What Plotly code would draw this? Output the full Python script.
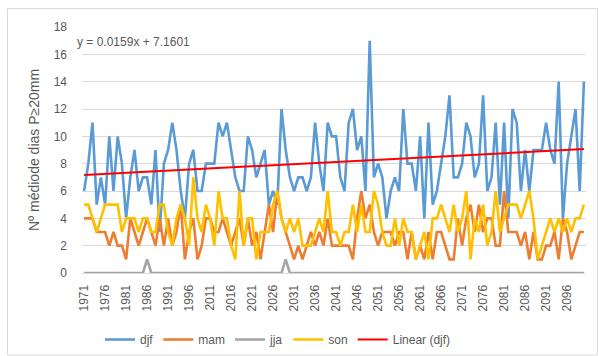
import plotly.graph_objects as go

# Categories: 1971-2000 reference period, then 2011-2100 projections
years = list(range(1971, 2001)) + list(range(2011, 2101))

# Mean number of days with P >= 20 mm, by season
djf = [6, 8, 11, 5, 7, 5, 10, 6, 10, 8,
       4, 7, 9, 6, 7, 7, 5, 9, 3, 8,
       9, 11, 9, 6, 4, 8, 9, 6, 6, 8,
       8, 8, 11, 10, 11, 9, 7, 6, 6, 10,
       9, 7, 8, 9, 5, 6, 5, 12, 9, 7,
       6, 7, 7, 6, 7, 11, 8, 6, 11, 10,
       10, 7, 6, 11, 12, 9, 10, 6, 17, 7,
       8, 7, 4, 6, 7, 6, 12, 8, 8, 6,
       10, 4, 11, 5, 6, 8, 10, 13, 7, 7,
       8, 11, 10, 7, 8, 13, 6, 7, 11, 5,
       11, 4, 12, 11, 6, 9, 6, 9, 9, 9,
       11, 9, 8, 14, 4, 8, 10, 12, 6, 14]

mam = [4, 4, 4, 3, 3, 3, 2, 3, 2, 2,
       1, 4, 3, 2, 3, 4, 3, 2, 4, 2,
       4, 2, 3, 5, 1, 3, 4, 1, 2, 4,
       4, 3, 3, 4, 3, 2, 3, 4, 2, 4,
       2, 3, 1, 3, 5, 3, 6, 4, 3, 2,
       1, 2, 1, 2, 3, 2, 3, 2, 4, 2,
       2, 2, 2, 2, 1, 4, 6, 4, 5, 3,
       2, 3, 3, 3, 2, 3, 3, 1, 3, 1,
       2, 1, 3, 1, 3, 3, 2, 1, 1, 4,
       2, 4, 5, 3, 5, 3, 4, 4, 2, 2,
       6, 3, 3, 3, 2, 3, 1, 3, 1, 1,
       2, 2, 3, 1, 4, 3, 1, 2, 3, 3]

jja = [0] * 120
jja[15] = 1   # 1986
jja[48] = 1   # 2029

son = [5, 5, 4, 3, 4, 5, 5, 5, 5, 3,
       4, 4, 4, 3, 4, 4, 3, 3, 5, 5,
       3, 2, 4, 5, 4, 2, 7, 4, 3, 5,
       4, 2, 6, 4, 4, 2, 1, 6, 2, 4,
       4, 1, 3, 3, 3, 5, 6, 4, 3, 4,
       3, 4, 2, 2, 2, 3, 4, 3, 6, 3,
       3, 2, 3, 3, 5, 3, 5, 3, 3, 6,
       5, 3, 2, 2, 4, 2, 4, 3, 3, 1,
       2, 3, 1, 4, 4, 5, 4, 3, 5, 3,
       4, 6, 1, 4, 3, 5, 2, 3, 6, 3,
       4, 5, 5, 5, 4, 5, 6, 4, 1, 2,
       3, 4, 3, 4, 3, 4, 3, 4, 4, 5]

# Linear trend of djf (x = 1..n)
slope, intercept = 0.0159, 7.1601

y_ticks = list(range(0, 19, 2))
label_step = 5

idx = list(range(len(years)))
trend = [slope * (i + 1) + intercept for i in idx]

font_family = "Liberation Sans, Arial, sans-serif"
txt_color = "#595959"
grid_color = "#d9d9d9"

fig = go.Figure()
series = [("djf", djf, "#5B9BD5"), ("mam", mam, "#ED7D31"),
          ("jja", jja, "#A5A5A5"), ("son", son, "#FFC000")]
for name, vals, col in series:
    fig.add_trace(go.Scatter(x=idx, y=vals, mode="lines", name=name,
                             line=dict(color=col, width=2.6)))
fig.add_trace(go.Scatter(x=idx, y=trend, mode="lines", name="Linear (djf)",
                         line=dict(color="#FF0000", width=2)))

W, H = 598, 356
L, R, T, B = 82, 12, 27, 83
pw, ph = W - L - R, H - T - B

def px(xp):
    return (xp - L) / pw

def py(yp):
    return (H - B - yp) / ph

fig.update_layout(
    width=W, height=H,
    margin=dict(l=L, r=R, t=T, b=B, autoexpand=False),
    paper_bgcolor="white", plot_bgcolor="white",
    font=dict(family=font_family, size=12, color=txt_color),
    showlegend=True,
    legend=dict(orientation="h", x=px(100), xanchor="left",
                y=py(325), yanchor="top",
                font=dict(size=12, color=txt_color),
                bgcolor="rgba(0,0,0,0)"),
    xaxis=dict(range=[-0.5, len(years) - 0.5],
               tickmode="array",
               tickvals=idx[::label_step],
               ticktext=[str(y) for y in years[::label_step]],
               tickangle=-90, showgrid=False, zeroline=False,
               showline=True, linecolor=grid_color, ticks="",
               ticklabelstandoff=6, automargin=False,
               tickfont=dict(size=12, color=txt_color)),
    yaxis=dict(range=[0, 18], tickmode="array", tickvals=y_ticks,
               showgrid=True, gridcolor=grid_color, gridwidth=1,
               zeroline=False, showline=False, ticks="",
               ticklabelstandoff=14, automargin=False,
               tickfont=dict(size=12, color=txt_color),
               title=dict(text="Nº médiode dias P≥20mm",
                          font=dict(size=14, color=txt_color),
                          standoff=10)),
    shapes=[dict(type="rect", xref="paper", yref="paper",
                 x0=px(7.5), x1=px(597.5), y0=py(355), y1=py(8.5),
                 line=dict(color=grid_color, width=1), layer="below")],
    annotations=[dict(text="y = 0.0159x + 7.1601", xref="paper", yref="paper",
                      x=px(75), y=py(42), xanchor="left", yanchor="middle",
                      showarrow=False,
                      font=dict(size=12, color=txt_color))],
)

fig.write_html("out.html")
